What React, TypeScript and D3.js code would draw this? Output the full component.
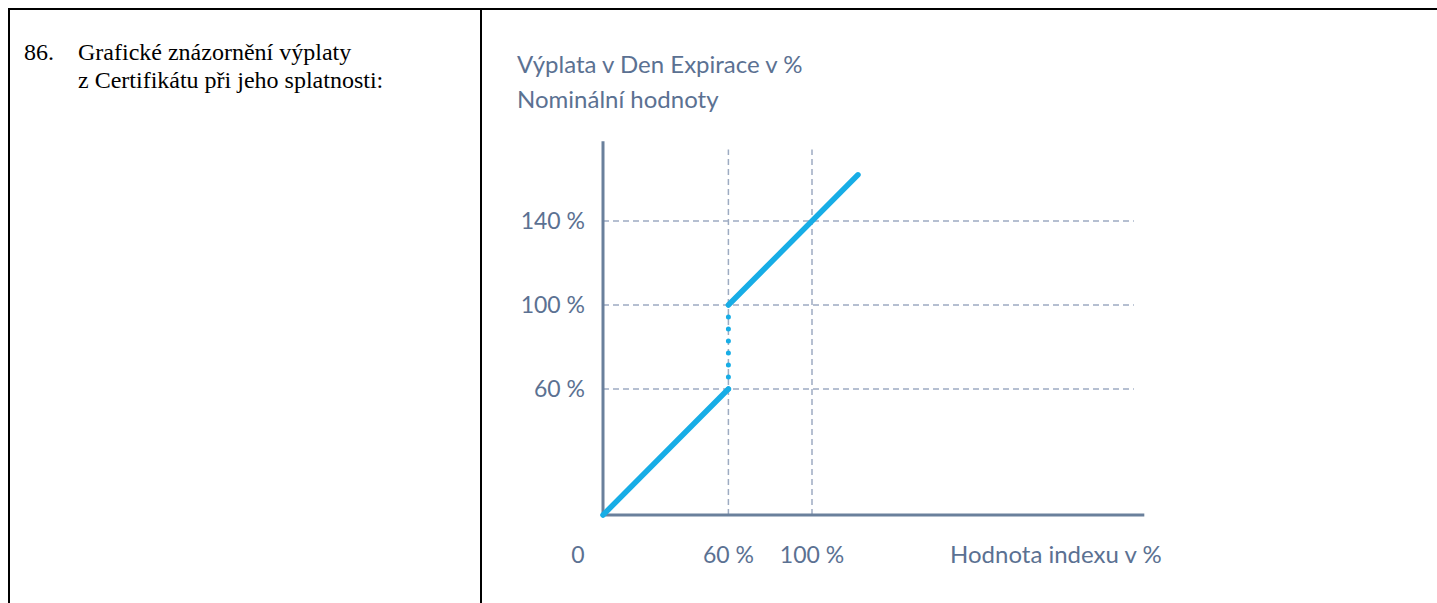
import React from "react";
import * as d3 from "d3";

// payoff profile at expiry (index value % -> payout % of nominal)
const indexValues = [0, 60, 60, 122];
const payoutValues = [0, 60, 100, 162];
const segmentStyles = ["solid", "dotted", "solid"];

const yTicks = [60, 100, 140];
const yTickLabels = ["60 %", "100 %", "140 %"];
const xTicks = [60, 100];
const xTickLabels = ["60 %", "100 %"];

const titleLines = ["Výplata v Den Expirace v %", "Nominální hodnoty"];
const xAxisTitle = "Hodnota indexu v %";
const rowNumber = "86.";
const rowText = ["Grafické znázornění výplaty", "z Certifikátu při jeho splatnosti:"];

const W = 1437;
const H = 603;

const App = () => {
  const x = d3.scaleLinear().domain([0, 100]).range([603, 812]);
  const y = d3.scaleLinear().domain([0, 140]).range([515, 221]);

  const axisColor = "#6a809c";
  const gridColor = "#9dabc2";
  const lineColor = "#17ade6";
  const textColor = "#5b7192";
  const font = "Lato, 'Open Sans', sans-serif";

  const line = d3
    .line<number>()
    .x((i) => x(indexValues[i]))
    .y((i) => y(payoutValues[i]));

  const segments = segmentStyles.map((style, i) => ({ style, d: line([i, i + 1]) }));

  return (
    <svg width={W} height={H} style={{ position: "absolute", left: 0, top: 0 }}>
      {/* table frame */}
      <line x1={8} x2={W} y1={9} y2={9} stroke="#000" strokeWidth={2} />
      <line x1={9} x2={9} y1={8} y2={H} stroke="#000" strokeWidth={2} />
      <line x1={481} x2={481} y1={8} y2={H} stroke="#000" strokeWidth={2} />

      <g fontFamily="'Liberation Serif', 'Times New Roman', serif" fontSize={24} fill="#000">
        <text x={24} y={60}>{rowNumber}</text>
        {rowText.map((t, i) => (
          <text key={i} x={78} y={60 + i * 28}>{t}</text>
        ))}
      </g>

      {/* chart title */}
      <g fontFamily={font} fontSize={24} fill={textColor}>
        {titleLines.map((t, i) => (
          <text key={i} x={517} y={73 + i * 35}>{t}</text>
        ))}
      </g>

      {/* grid */}
      {yTicks.map((v) => (
        <line key={"gy" + v} x1={x(0)} x2={x(254)} y1={y(v)} y2={y(v)}
          stroke={gridColor} strokeWidth={1.5} strokeDasharray="6 4" />
      ))}
      {xTicks.map((v) => (
        <line key={"gx" + v} x1={x(v)} x2={x(v)} y1={y(0)} y2={y(174)}
          stroke={gridColor} strokeWidth={1.5} strokeDasharray="6 4" />
      ))}

      {/* axes */}
      <line x1={x(0)} x2={x(0)} y1={y(0)} y2={y(178)} stroke={axisColor} strokeWidth={3} />
      <line x1={x(0)} x2={x(259)} y1={y(0)} y2={y(0)} stroke={axisColor} strokeWidth={3} />

      {/* payoff */}
      {segments.map((s, i) => (
        <path key={i} d={s.d || ""} fill="none" stroke={lineColor}
          strokeWidth={s.style === "dotted" ? 5 : 5.5}
          strokeLinecap="round"
          strokeDasharray={s.style === "dotted" ? "0 12" : undefined} />
      ))}

      {/* tick labels */}
      <g fontFamily={font} fontSize={23} fill={textColor}>
        {yTicks.map((v, i) => (
          <text key={v} x={585} y={y(v)} dy="0.35em" textAnchor="end">{yTickLabels[i]}</text>
        ))}
        <text x={578} y={555} dy="0.35em" textAnchor="middle">0</text>
        {xTicks.map((v, i) => (
          <text key={v} x={x(v)} y={555} dy="0.35em" textAnchor="middle">{xTickLabels[i]}</text>
        ))}
        <text x={950} y={555} dy="0.35em" fontSize={24}>{xAxisTitle}</text>
      </g>
    </svg>
  );
};

export default App;
